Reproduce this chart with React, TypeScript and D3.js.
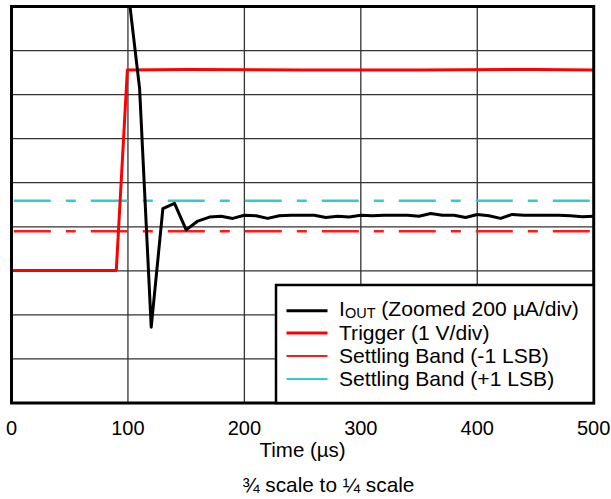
import React from "react";
import * as d3 from "d3";

const W = 611;
const H = 499;

// x ticks (µs)
const xTicks = [0, 100, 200, 300, 400, 500];
// y in divisions (0..9), no labels
const yDivs = [0, 1, 2, 3, 4, 5, 6, 7, 8, 9];

// IOUT (zoomed) in divisions
const ioutTime = [100, 110, 120, 130, 140, 150, 160, 170, 180, 190, 200, 210, 220, 230, 240, 250, 260, 270, 280, 290, 300, 310, 320, 330, 340, 350, 360, 370, 380, 390, 400, 410, 420, 430, 440, 450, 460, 470, 480, 490, 500];
const ioutDiv = [9.4, 7.14, 1.72, 4.41, 4.53, 3.93, 4.13, 4.22, 4.24, 4.19, 4.26, 4.25, 4.19, 4.25, 4.26, 4.26, 4.26, 4.21, 4.24, 4.22, 4.26, 4.25, 4.26, 4.26, 4.26, 4.24, 4.3, 4.26, 4.26, 4.21, 4.28, 4.25, 4.19, 4.28, 4.26, 4.26, 4.26, 4.26, 4.25, 4.23, 4.24];

// Trigger in divisions
const trigTime = [0, 90, 99.5, 150, 250, 350, 450, 500];
const trigDiv = [3.01, 3.01, 7.56, 7.57, 7.56, 7.56, 7.57, 7.56];

// Settling bands (divisions)
const bandLow = 3.9;
const bandHigh = 4.59;

const legendLabels = ["Trigger (1 V/div)", "Settling Band (-1 LSB)", "Settling Band (+1 LSB)"];

export default function App() {
  const x = d3.scaleLinear().domain([0, 500]).range([11.5, 593.7]);
  const y = d3.scaleLinear().domain([0, 9]).range([403, 6.5]);

  const line = d3
    .line<[number, number]>()
    .x((d) => x(d[0]))
    .y((d) => y(d[1]));

  const iout: [number, number][] = ioutTime.map((t, i) => [t, ioutDiv[i]]);
  const trig: [number, number][] = trigTime.map((t, i) => [t, trigDiv[i]]);

  const font = "Arial, 'Liberation Sans', Helvetica, sans-serif";
  const dash = "37 15 10 15";
  const dashOff = 74.7;

  const lgX0 = 276;
  const lgY0 = 285;
  const lgBase = [315.8, 339.5, 362.5, 385.5];
  const fs = 21.1;

  return (
    <svg
      width={W}
      height={H}
      style={{ position: "absolute", left: 0, top: 0, background: "#fff" }}
      fontFamily={font}
    >
      <defs>
        <clipPath id="plotclip">
          <rect x={x(0)} y={y(9)} width={x(500) - x(0)} height={y(0) - y(9)} />
        </clipPath>
      </defs>
      <rect x={0} y={0} width={W} height={H} fill="#fff" />
      {/* grid */}
      {xTicks.slice(1, -1).map((t) => (
        <line key={"gx" + t} x1={x(t)} x2={x(t)} y1={y(0)} y2={y(9)} stroke="#333" strokeWidth={1.3} />
      ))}
      {yDivs.slice(1, -1).map((d) => (
        <line key={"gy" + d} x1={x(0)} x2={x(500)} y1={y(d)} y2={y(d)} stroke="#333" strokeWidth={1.3} />
      ))}
      <g clipPath="url(#plotclip)">
        {/* settling bands */}
        <line x1={x(0)} x2={x(500)} y1={y(bandHigh)} y2={y(bandHigh)} stroke="#33cccc" strokeWidth={2.5} strokeDasharray={dash} strokeDashoffset={dashOff} />
        <line x1={x(0)} x2={x(500)} y1={y(bandLow)} y2={y(bandLow)} stroke="#ff1a1a" strokeWidth={2.5} strokeDasharray={dash} strokeDashoffset={dashOff} />
        {/* trigger */}
        <path d={line(trig) || ""} fill="none" stroke="#ff0000" strokeWidth={3} strokeLinejoin="round" />
        {/* iout */}
        <path d={line(iout) || ""} fill="none" stroke="#000" strokeWidth={3} strokeLinejoin="round" />
      </g>
      {/* frame */}
      <rect x={x(0)} y={y(9)} width={x(500) - x(0)} height={y(0) - y(9)} fill="none" stroke="#000" strokeWidth={3} />
      {/* legend */}
      <rect x={lgX0} y={lgY0} width={x(500) - lgX0} height={y(0) - lgY0} fill="#fff" stroke="#000" strokeWidth={2.5} />
      <line x1={286.5} x2={327.5} y1={310.7} y2={310.7} stroke="#000" strokeWidth={3} />
      <line x1={286.5} x2={327.5} y1={lgBase[1] - 6.5} y2={lgBase[1] - 6.5} stroke="#ff0000" strokeWidth={3} />
      <line x1={286.5} x2={327.5} y1={lgBase[2] - 6.5} y2={lgBase[2] - 6.5} stroke="#ff1a1a" strokeWidth={2} />
      <line x1={286.5} x2={327.5} y1={lgBase[3] - 6.5} y2={lgBase[3] - 6.5} stroke="#33cccc" strokeWidth={2} />
      <text x={339} y={lgBase[0]} fontSize={fs} fill="#000">
        I<tspan fontSize={14.5} dy={2.4}>OUT</tspan>
        <tspan dy={-2.4}> (Zoomed 200 µA/div)</tspan>
      </text>
      {legendLabels.map((l, i) => (
        <text key={l} x={339} y={lgBase[i + 1]} fontSize={fs} fill="#000">
          {l}
        </text>
      ))}
      {/* x tick labels */}
      {xTicks.map((t) => (
        <text key={"xt" + t} x={x(t)} y={434.5} fontSize={20} textAnchor="middle" fill="#000">
          {t}
        </text>
      ))}
      <text x={(x(0) + x(500)) / 2} y={457.3} fontSize={20.5} textAnchor="middle" fill="#000">
        Time (µs)
      </text>
      <text x={328.3} y={491.7} fontSize={20.8} textAnchor="middle" fill="#000">
        ¾ scale to ¼ scale
      </text>
    </svg>
  );
}
